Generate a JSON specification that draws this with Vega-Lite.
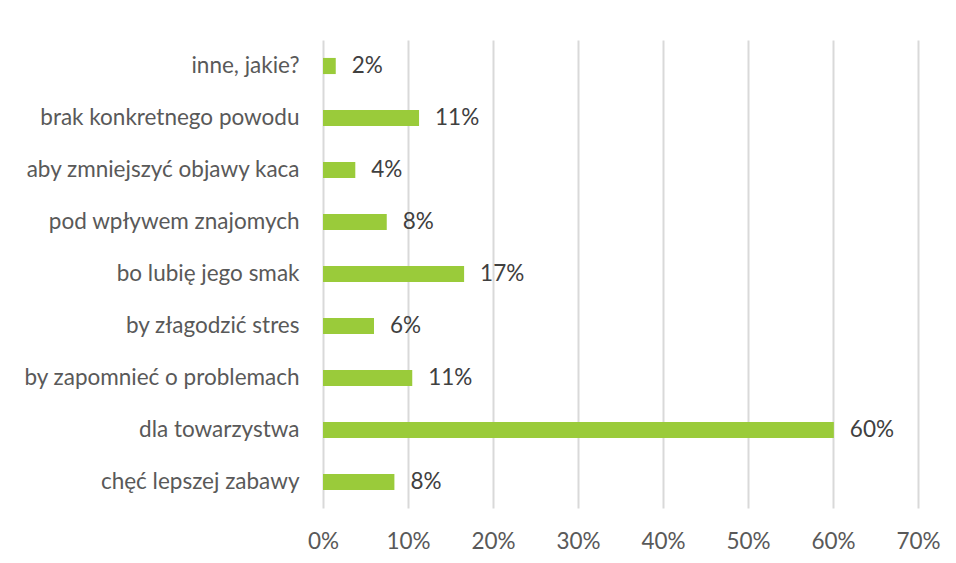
{
  "$schema": "https://vega.github.io/schema/vega-lite/v6.json",
  "width": 595,
  "height": 468,
  "autosize": {"type": "none"},
  "padding": {"left": 323, "top": 40, "right": 38, "bottom": 55},
  "background": "white",
  "data": {
    "values": [
      {"powod": "inne, jakie?", "udzial": 0.015},
      {"powod": "brak konkretnego powodu", "udzial": 0.113},
      {"powod": "aby zmniejszyć objawy kaca", "udzial": 0.038},
      {"powod": "pod wpływem znajomych", "udzial": 0.075},
      {"powod": "bo lubię jego smak", "udzial": 0.166},
      {"powod": "by złagodzić stres", "udzial": 0.06},
      {"powod": "by zapomnieć o problemach", "udzial": 0.105},
      {"powod": "dla towarzystwa", "udzial": 0.601},
      {"powod": "chęć lepszej zabawy", "udzial": 0.084}
    ]
  },
  "encoding": {
    "y": {
      "field": "powod",
      "type": "nominal",
      "sort": null,
      "title": null,
      "scale": {"paddingInner": 0.69, "paddingOuter": 0.345},
      "axis": {
        "domain": false,
        "ticks": false,
        "grid": false,
        "labelPadding": 24,
        "labelFont": "Lato",
        "labelFontSize": 22.5,
        "labelColor": "#595959",
        "labelLimit": 400
      }
    },
    "x": {
      "field": "udzial",
      "type": "quantitative",
      "title": null,
      "scale": {"domain": [0, 0.7], "nice": false},
      "axis": {
        "format": ".0%",
        "values": [0, 0.1, 0.2, 0.3, 0.4, 0.5, 0.6, 0.7],
        "domain": false,
        "ticks": false,
        "grid": true,
        "gridColor": "#d9d9d9",
        "gridWidth": 2,
        "labelFlush": false,
        "labelPadding": 22,
        "labelFont": "Lato",
        "labelFontSize": 22.5,
        "labelColor": "#595959"
      }
    }
  },
  "layer": [
    {"mark": {"type": "bar", "color": "#9acb3a"}},
    {
      "mark": {"type": "text", "align": "left", "dx": 16, "font": "Lato", "fontSize": 22.5, "color": "#404040"},
      "encoding": {"text": {"field": "udzial", "type": "quantitative", "format": ".0%"}}
    }
  ],
  "config": {"view": {"stroke": null}}
}
